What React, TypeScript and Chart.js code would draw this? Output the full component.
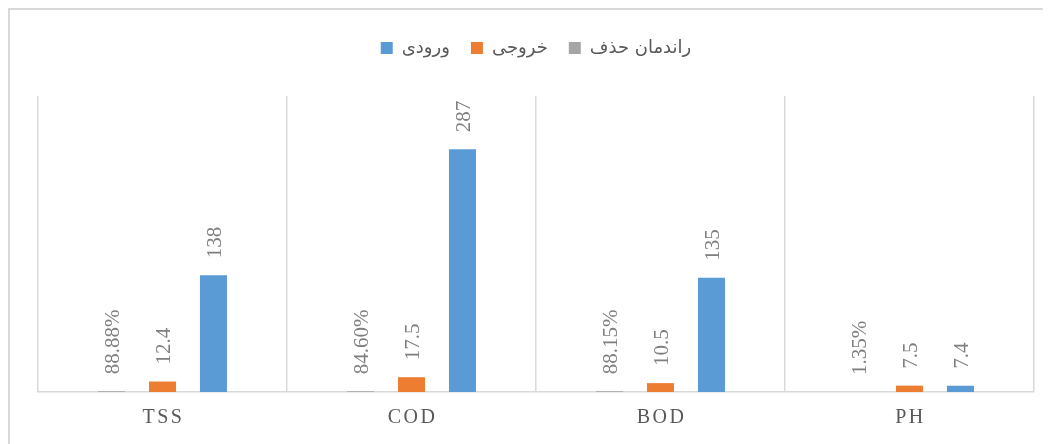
import React, { useEffect, useRef } from 'react';
import { Chart, registerables } from 'chart.js';

Chart.register(...registerables);

const categories = ['TSS', 'COD', 'BOD', 'PH'];
const inletValues = [138, 287, 135, 7.4];
const outletValues = [12.4, 17.5, 10.5, 7.5];
const removalPercent = [88.88, 84.6, 88.15, 1.35];
const seriesNames = ['ورودی', 'خروجی', 'راندمان حذف'];
const seriesColors = ['#5b9bd5', '#ed7d31', '#a5a5a5'];
const yMax = 350;

const decorPlugin = {
  id: 'decor',
  beforeDraw(chart: any) {
    const { ctx, width, height } = chart;
    ctx.save();
    ctx.fillStyle = '#d9d9d9';
    ctx.fillRect(0, 0, 2, height);
    ctx.fillRect(0, 0, width, 2);
    ctx.restore();
  },
  afterDatasetsDraw(chart: any) {
    const ctx = chart.ctx;
    chart.data.datasets.forEach((ds: any, di: number) => {
      const meta = chart.getDatasetMeta(di);
      meta.data.forEach((el: any, i: number) => {
        const text = ds.valueLabels[i];
        ctx.save();
        ctx.translate(el.x + 2, el.y - 17);
        ctx.rotate(-Math.PI / 2);
        ctx.font = '21px "Liberation Serif"';
        ctx.fillStyle = '#7f7f7f';
        ctx.textAlign = 'left';
        ctx.textBaseline = 'middle';
        ctx.fillText(text, 0, 0);
        ctx.restore();
      });
    });
    const xs = chart.scales.x;
    ctx.save();
    ctx.font = '20px "Liberation Serif"';
    ctx.fillStyle = '#595959';
    ctx.textAlign = 'center';
    ctx.textBaseline = 'middle';
    (ctx as any).letterSpacing = '2.5px';
    categories.forEach((c, i) => {
      ctx.fillText(c, xs.getPixelForValue(i) + 1, xs.top + 26);
    });
    ctx.restore();
  },
};

export default function App() {
  const canvasRef = useRef<HTMLCanvasElement | null>(null);

  useEffect(() => {
    if (!canvasRef.current) return;
    const chart = new Chart(canvasRef.current, {
      type: 'bar',
      data: {
        labels: categories,
        datasets: [
          {
            label: seriesNames[2],
            data: removalPercent.map((v) => v / 100),
            backgroundColor: seriesColors[2],
            valueLabels: removalPercent.map((v) => v.toFixed(2) + '%'),
          } as any,
          {
            label: seriesNames[1],
            data: outletValues,
            backgroundColor: seriesColors[1],
            valueLabels: outletValues.map((v) => String(v)),
          } as any,
          {
            label: seriesNames[0],
            data: inletValues,
            backgroundColor: seriesColors[0],
            valueLabels: inletValues.map((v) => String(v)),
          } as any,
        ],
      },
      options: {
        responsive: true,
        maintainAspectRatio: false,
        animation: false,
        layout: { padding: { left: 30, right: 17, top: 10, bottom: 0 } },
        datasets: { bar: { categoryPercentage: 0.614, barPercentage: 0.53 } },
        plugins: {
          legend: {
            position: 'top',
            reverse: true,
            labels: {
              boxWidth: 12,
              boxHeight: 12,
              padding: 21,
              color: '#595959',
              font: { family: '"DejaVu Sans"', size: 18 },
            },
          },
          tooltip: { enabled: false },
        },
        scales: {
          x: {
            grid: { offset: true, color: '#d9d9d9', lineWidth: 1.5, drawTicks: false },
            border: { color: '#d9d9d9', width: 1.5 },
            ticks: { display: false },
            afterFit: (s: any) => {
              s.height = 52;
            },
          },
          xTop: {
            type: 'category',
            position: 'top',
            labels: categories,
            grid: { display: false },
            border: { display: false },
            ticks: { display: false },
            afterFit: (s: any) => {
              s.height = 29;
            },
          },
          y: { display: false, min: 0, max: yMax },
        },
      } as any,
      plugins: [decorPlugin],
    });
    return () => chart.destroy();
  }, []);

  return (
    <div style={{ position: 'relative', width: 1043, height: 436 }}>
      <canvas ref={canvasRef} />
    </div>
  );
}
